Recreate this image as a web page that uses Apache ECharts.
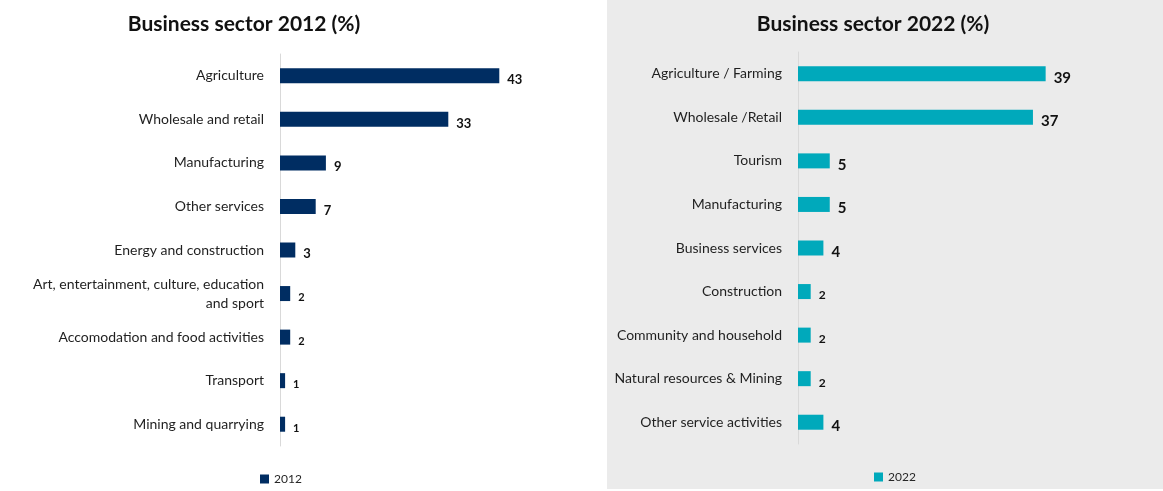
<!DOCTYPE html>
<html>
<head>
<meta charset="utf-8">
<script src="https://cdn.jsdelivr.net/npm/echarts@6/dist/echarts.min.js"></script>
<style>
  html, body { margin: 0; padding: 0; background: #ffffff; }
  #chart { width: 1163px; height: 491px; }
</style>
</head>
<body>
<div id="chart"></div>
<script>
// Business sectors, share of enterprises (%)
const sectors2012 = [
  'Agriculture',
  'Wholesale and retail',
  'Manufacturing',
  'Other services',
  'Energy and construction',
  'Art, entertainment, culture, education\nand sport',
  'Accomodation and food activities',
  'Transport',
  'Mining and quarrying'
];
const values2012 = [43, 33, 9, 7, 3, 2, 2, 1, 1];

const sectors2022 = [
  'Agriculture / Farming',
  'Wholesale /Retail',
  'Tourism',
  'Manufacturing',
  'Business services',
  'Construction',
  'Community and household',
  'Natural resources & Mining',
  'Other service activities'
];
const values2022 = [39, 37, 5, 5, 4, 2, 2, 2, 4];

const titles = ['Business sector 2012 (%)', 'Business sector 2022 (%)'];
const seriesNames = ['2012', '2022'];

const FONT = 'Lato, "Open Sans", sans-serif';
const NAVY = '#002d62';
const TEAL = '#00a9bb';

const chart = echarts.init(document.getElementById('chart'));

function valueLabel(size, smallSize) {
  return {
    show: true,
    position: 'right',
    distance: 8,
    offset: [0, 4],
    formatter: p => (p.value <= 2 ? '{s|' + p.value + '}' : '{b|' + p.value + '}'),
    rich: {
      b: { fontFamily: FONT, fontWeight: 'bold', fontSize: size, color: '#111' },
      s: { fontFamily: FONT, fontWeight: 'bold', fontSize: smallSize, color: '#111' }
    }
  };
}

function catAxis(gridIndex, data) {
  return {
    type: 'category',
    gridIndex,
    inverse: true,
    data,
    axisLine: { show: true, lineStyle: { color: '#d9d9d9', width: 1 } },
    axisTick: { show: false },
    axisLabel: {
      margin: 16,
      fontFamily: FONT,
      fontSize: 14,
      color: '#1f1f1f',
      lineHeight: 19,
      align: 'right'
    }
  };
}

function valAxis(gridIndex) {
  return {
    type: 'value',
    gridIndex,
    min: 0,
    max: 50,
    show: false,
    splitLine: { show: false }
  };
}

chart.setOption({
  animation: false,
  graphic: [{
    type: 'rect',
    shape: { x: 607, y: 0, width: 556, height: 489 },
    style: { fill: '#ebebeb' },
    z: -10
  }],
  title: [
    {
      text: titles[0], left: 239, top: 9, textAlign: 'center',
      textStyle: { fontFamily: FONT, fontWeight: 'bold', fontSize: 21, color: '#111' }
    },
    {
      text: titles[1], left: 868, top: 9, textAlign: 'center',
      textStyle: { fontFamily: FONT, fontWeight: 'bold', fontSize: 21, color: '#111' }
    }
  ],
  legend: [
    {
      data: [seriesNames[0]], left: 255, top: 468,
      itemWidth: 9, itemHeight: 9, itemGap: 4,
      icon: 'rect',
      textStyle: { fontFamily: FONT, fontSize: 12, color: '#262626' }
    },
    {
      data: [seriesNames[1]], left: 869, top: 466,
      itemWidth: 9, itemHeight: 9, itemGap: 4,
      icon: 'rect',
      textStyle: { fontFamily: FONT, fontSize: 12, color: '#262626' }
    }
  ],
  grid: [
    { left: 280, top: 54, width: 255, height: 392 },
    { left: 798, top: 52, width: 317.5, height: 392 }
  ],
  xAxis: [valAxis(0), valAxis(1)],
  yAxis: [catAxis(0, sectors2012), catAxis(1, sectors2022)],
  series: [
    {
      name: seriesNames[0], type: 'bar',
      xAxisIndex: 0, yAxisIndex: 0,
      data: values2012,
      barWidth: 15,
      itemStyle: { color: NAVY },
      label: valueLabel(13, 11)
    },
    {
      name: seriesNames[1], type: 'bar',
      xAxisIndex: 1, yAxisIndex: 1,
      data: values2022,
      barWidth: 15,
      itemStyle: { color: TEAL },
      label: valueLabel(15, 12)
    }
  ]
});
</script>
</body>
</html>
